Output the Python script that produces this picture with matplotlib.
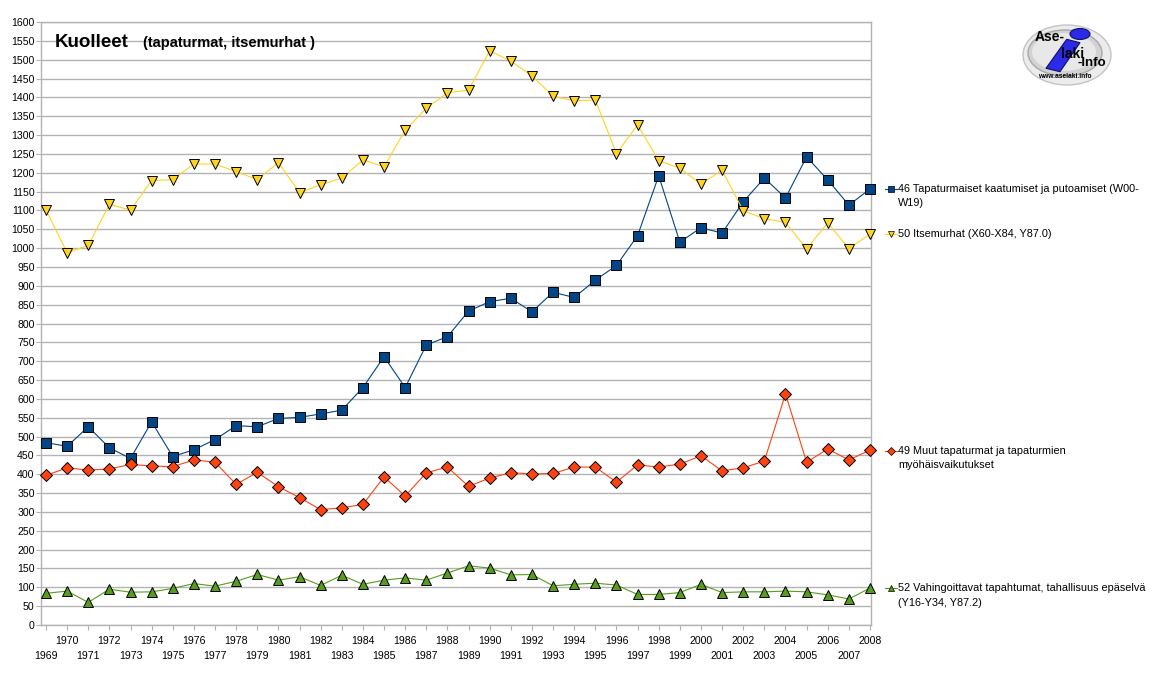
import matplotlib
matplotlib.use('Agg')
import matplotlib.pyplot as plt
from matplotlib.lines import Line2D
from matplotlib.patches import Ellipse, Polygon
import numpy as np

plt.rcParams['font.family'] = ['Liberation Sans', 'DejaVu Sans']

# Data
years = list(range(1969, 2009))

kaatumiset = [484, 474, 526, 470, 442, 539, 447, 465, 492, 529,
              526, 548, 551, 560, 570, 630, 712, 630, 743, 765,
              833, 858, 867, 831, 883, 869, 915, 954, 1033, 1192,
              1016, 1054, 1040, 1123, 1186, 1133, 1242, 1181, 1114, 1157]

itsemurhat = [1101, 988, 1007, 1116, 1101, 1179, 1182, 1223, 1223, 1203,
              1182, 1227, 1147, 1168, 1186, 1234, 1216, 1313, 1371, 1412,
              1419, 1524, 1496, 1457, 1403, 1391, 1393, 1251, 1327, 1232,
              1212, 1170, 1207, 1099, 1078, 1068, 998, 1067, 999, 1037]

muut = [397, 417, 411, 414, 426, 422, 420, 438, 432, 373,
        405, 367, 338, 306, 311, 320, 393, 342, 404, 419,
        368, 390, 404, 401, 402, 419, 419, 379, 425, 419,
        427, 449, 409, 417, 435, 613, 432, 467, 438, 464]

vahingoittavat = [84, 90, 60, 95, 87, 88, 97, 110, 103, 116,
                  134, 119, 128, 105, 132, 108, 119, 125, 119, 138,
                  157, 151, 133, 134, 104, 108, 111, 106, 81, 81,
                  86, 108, 86, 88, 88, 90, 88, 80, 69, 98]

labels = [
    ['46 Tapaturmaiset kaatumiset ja putoamiset (W00-', 'W19)'],
    ['50 Itsemurhat (X60-X84, Y87.0)'],
    ['49 Muut tapaturmat ja tapaturmien', 'myöhäisvaikutukset'],
    ['52 Vahingoittavat tapahtumat, tahallisuus epäselvä', '(Y16-Y34, Y87.2)'],
]

series = [kaatumiset, itsemurhat, muut, vahingoittavat]
colors = ['#004586', '#ffd320', '#ff420e', '#579d1c']
markers = ['s', 'v', 'D', '^']
msizes = [7.5, 7.5, 6.2, 7.5]
legend_y = [189, 234, 451, 588]   # pixel rows of the legend entries

W, H = 1158, 677
fig = plt.figure(figsize=(W / 100, H / 100), dpi=100)
ax = fig.add_axes([41 / W, 1 - 625 / H, 830 / W, 603 / H])

grid_c = '#b3b3b3'
for vals, c, m, ms in zip(series, colors, markers, msizes):
    ax.plot(years, vals, color=c, linewidth=0.8, marker=m, markersize=ms,
            markerfacecolor=c, markeredgecolor='black', markeredgewidth=0.7,
            clip_on=False, zorder=3)

ax.set_xlim(1969 - 5 / 21.13, 2008 + 1 / 21.13)
ax.set_ylim(0, 1600)
ax.set_yticks(np.arange(0, 1601, 50))
ax.yaxis.grid(True, color=grid_c, linewidth=1.0)
ax.set_axisbelow(True)

ax.set_xticks([y for y in years if y % 2 == 0])
ax.set_xticks([y for y in years if y % 2 == 1], minor=True)
ax.set_xticklabels([str(y) for y in years if y % 2 == 0])
ax.set_xticklabels([str(y) for y in years if y % 2 == 1], minor=True)

ax.tick_params(axis='x', which='major', length=3.6, width=0.8, color=grid_c,
               pad=4.5, labelsize=7.6)
ax.tick_params(axis='x', which='minor', length=3.6, width=0.8, color=grid_c,
               pad=15.0, labelsize=7.6)
ax.tick_params(axis='y', length=3.6, width=0.8, color=grid_c, pad=1.0,
               labelsize=7.6)

for s in ax.spines.values():
    s.set_color(grid_c)
    s.set_linewidth(1.0)

# overlay in pixel coordinates for title, legend and logo
ov = fig.add_axes([0, 0, 1, 1], zorder=5)
ov.set_xlim(0, W)
ov.set_ylim(H, 0)
ov.axis('off')
ov.patch.set_alpha(0)

ov.text(55, 47, 'Kuolleet', fontsize=13.5, fontweight='bold',
        va='baseline', ha='left')
ov.text(143, 47, '(tapaturmat, itsemurhat )', fontsize=10.5, fontweight='bold',
        va='baseline', ha='left')

# legend entries
for lines, c, m, ms, y in zip(labels, colors, markers, msizes, legend_y):
    ov.add_line(Line2D([885, 897], [y, y], color=c, linewidth=0.8))
    ov.plot([891], [y], marker=m, markersize=ms * 0.6, color=c,
            markeredgecolor='black', markeredgewidth=0.5)
    for i, txt in enumerate(lines):
        ov.text(898, y + i * 14.5, txt, fontsize=7.8, va='center', ha='left')

# logo
ov.add_patch(Ellipse((1067, 55), 88, 60, facecolor='#ececec', edgecolor='#c4c4c4', linewidth=1))
ov.add_patch(Ellipse((1065, 53), 74, 46, facecolor='#d2d2d2', edgecolor='#a8a8a8', linewidth=1))
ov.add_patch(Ellipse((1064, 52), 64, 38, facecolor='#e8e8e8', edgecolor='none'))
ov.add_patch(Polygon([(1066.7, 39.3), (1080, 42.7), (1060, 71.7), (1046, 68.3)],
                     closed=True, facecolor='#2a2ae8', edgecolor='#101060', linewidth=0.8))
ov.add_patch(Ellipse((1080, 34), 20, 11, facecolor='#2a2ae8', edgecolor='#101060', linewidth=0.8))
ov.text(1050, 37, 'Ase-', fontsize=10, fontweight='bold', ha='center', va='center')
ov.text(1073, 54, 'laki', fontsize=10, fontweight='bold', ha='center', va='center')
ov.text(1092, 63, '-Info', fontsize=9.5, fontweight='bold', ha='center', va='center')
ov.text(1065, 76, 'www.aselaki.info', fontsize=4.8, fontweight='bold', ha='center', va='center')

fig.savefig('out.png', dpi=100)
